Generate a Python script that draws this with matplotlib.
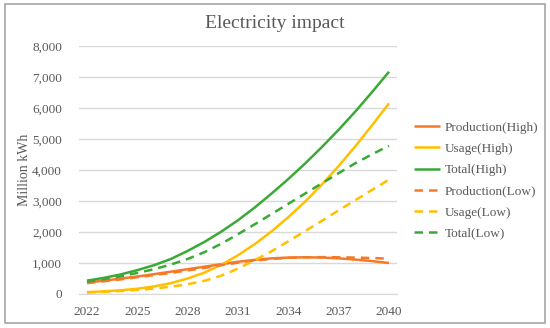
import matplotlib
matplotlib.use("Agg")
import matplotlib.pyplot as plt
from matplotlib.patches import Rectangle
from matplotlib.ticker import FuncFormatter

years = list(range(2022, 2041))
tick_years = [2022, 2025, 2028, 2031, 2034, 2037, 2040]

production_high = [370, 430, 495, 565, 640, 720, 800, 880, 960, 1040, 1100, 1150, 1175, 1185, 1175, 1150, 1110, 1060, 1000]
usage_high = [60, 85, 120, 170, 245, 350, 500, 690, 940, 1250, 1610, 2020, 2480, 2980, 3530, 4130, 4770, 5450, 6150]
total_high = [430, 520, 630, 770, 930, 1130, 1390, 1680, 2010, 2380, 2790, 3240, 3710, 4210, 4740, 5300, 5890, 6520, 7170]
production_low = [350, 410, 470, 540, 610, 680, 760, 840, 930, 1010, 1080, 1130, 1165, 1185, 1190, 1185, 1175, 1160, 1140]
usage_low = [50, 70, 95, 130, 175, 235, 315, 425, 590, 820, 1090, 1380, 1700, 2030, 2360, 2700, 3030, 3360, 3690]
total_low = [400, 480, 570, 680, 800, 950, 1130, 1350, 1620, 1930, 2250, 2580, 2910, 3240, 3570, 3900, 4220, 4510, 4780]

series = [
    ("Production(High)", production_high, "#F47A2A", "-"),
    ("Usage(High)", usage_high, "#FFC000", "-"),
    ("Total(High)", total_high, "#3AA935", "-"),
    ("Production(Low)", production_low, "#F47A2A", "--"),
    ("Usage(Low)", usage_low, "#FFC000", "--"),
    ("Total(Low)", total_low, "#3AA935", "--"),
]

plt.rcParams['font.family'] = ['Liberation Serif', 'DejaVu Serif']
text_color = "#595959"

W, H = 550, 328
fig = plt.figure(figsize=(W / 100, H / 100), dpi=100)
ax = fig.add_axes([78.6 / W, 34 / H, 318.8 / W, 248 / H])

x = list(range(len(years)))
for name, vals, color, ls in series:
    if ls == "-":
        ax.plot(x, vals, color=color, lw=1.8, label=name, solid_capstyle='butt')
    else:
        ax.plot(x, vals, color=color, lw=1.8, label=name, linestyle=(0, (3.4, 2.4)), dash_capstyle='butt')

ax.set_xlim(-0.5, len(years) - 0.5)
ax.set_ylim(0, 8000)
ax.set_yticks(range(0, 8001, 1000))
ax.yaxis.set_major_formatter(FuncFormatter(lambda v, p: f"{int(v):,}"))
ax.set_xticks([years.index(y) for y in tick_years])
ax.set_xticklabels([str(y) for y in tick_years])
ax.grid(axis='y', color='#d9d9d9', lw=1)
ax.set_axisbelow(True)
for s in ['top', 'right', 'left']:
    ax.spines[s].set_visible(False)
ax.spines['bottom'].set_color('#d9d9d9')
ax.tick_params(axis='both', length=0, labelsize=9.5, colors=text_color)
ax.tick_params(axis='y', pad=12)
ax.tick_params(axis='x', pad=8.5)

fig.text(25 / W, 1 - 170 / H, "Million kWh", rotation=90, ha='center', va='center',
         fontsize=10, color=text_color)
fig.text(275 / W, 1 - 24 / H, "Electricity impact", ha='center', va='center',
         fontsize=14, color=text_color)

leg = ax.legend(loc='upper left', bbox_to_anchor=(414 / W, 1 - 121.5 / H),
                bbox_transform=fig.transFigure, frameon=False, fontsize=9.5,
                handlelength=2.0, handletextpad=0.3, labelspacing=0.68,
                borderpad=0, borderaxespad=0)
for t in leg.get_texts():
    t.set_color(text_color)

fig.patches.append(Rectangle((5 / W, 1 - 323 / H), 540 / W, 319 / H,
                             transform=fig.transFigure, fill=False,
                             edgecolor='#a6a6a6', lw=1.2))

fig.savefig("out.png", dpi=100)
